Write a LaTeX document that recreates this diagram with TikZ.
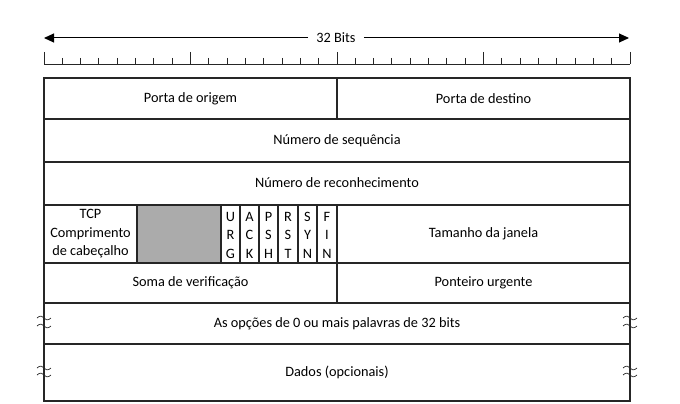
\documentclass[tikz,border=0pt]{standalone}
\usepackage{fontspec}
\setmainfont{Carlito}
\usetikzlibrary{arrows.meta}
\begin{document}
\begin{tikzpicture}[x=1pt,y=-1pt,
  every node/.style={font=\fontsize{14.3}{17.5}\selectfont, inner sep=0pt},
  frame/.style={line width=1.1pt, draw=black!85},
  tick/.style={line width=0.9pt, draw=black!85},
  cell/.style={align=center},
  flagtxt/.style={align=center, font=\fontsize{14.3}{18.5}\selectfont},
  brk/.style={line width=0.7pt, draw=black!85},
  dimarrow/.style={line width=1pt, -{Triangle[length=10pt,width=9pt]}}
]
\useasboundingbox (0,0) rectangle (680,404);
% ruler arrow
\coordinate (aL) at (44,38);
\coordinate (aR) at (629,38);
\node (bits) at (336,38) {32 Bits};
\draw[dimarrow] ([xshift=-8pt]bits.west) -- (aL);
\draw[dimarrow] ([xshift=8pt]bits.east) -- (aR);
% ruler ticks
\draw[tick] (44,64) -- (630,64);
\foreach \i in {0,...,32}{
  \pgfmathsetmacro{\xx}{44+\i*18.3125}
  \pgfmathtruncatemacro{\m}{mod(\i,8)}
  \ifnum\m=0
    \draw[tick] (\xx,52) -- (\xx,64);
  \else
    \draw[tick] (\xx,58) -- (\xx,64);
  \fi
}
% gray reserved
\fill[black!33] (137,205) rectangle (221,263);
% frame
\draw[frame] (44,78) rectangle (630,401);
\foreach \yy in {119,162,205,263,303,344}{
  \draw[frame] (44,\yy) -- (630,\yy);
}
\draw[frame] (337,78) -- (337,119);
\draw[frame] (337,205) -- (337,303);
\foreach \xx in {137,221,240,259,278,298,317}{
  \draw[frame] (\xx,205) -- (\xx,263);
}
% texts
\node[cell] (src) at (190.5,99) {Porta de origem};
\node[cell] (dst) at (483.5,99) {Porta de destino};
\node[cell] (seq) at (337,141) {Número de sequência};
\node[cell] (ack) at (337,183) {Número de reconhecimento};
\node[flagtxt] (hlen) at (90.5,234) {TCP\\Comprimento\\de cabeçalho};
\node[flagtxt] (fu) at (230.5,235) {U\\R\\G};
\node[flagtxt] (fa) at (249.5,235) {A\\C\\K};
\node[flagtxt] (fp) at (268.5,235) {P\\S\\H};
\node[flagtxt] (fr) at (288,235) {R\\S\\T};
\node[flagtxt] (fs) at (307.5,235) {S\\Y\\N};
\node[flagtxt] (ff) at (327,235) {F\\I\\N};
\node[cell] (win) at (483.5,234) {Tamanho da janela};
\node[cell] (chk) at (190.5,283) {Soma de verificação};
\node[cell] (urg) at (483.5,283) {Ponteiro urgente};
\node[cell] (opt) at (337,324) {As opções de 0 ou mais palavras de 32 bits};
\node[cell] (dat) at (337,372) {Dados (opcionais)};
% break marks
\foreach \bx in {44,630}{
  \foreach \by in {318,326,368,375}{
    \draw[brk] (\bx-7,\by) .. controls (\bx-4,\by-3) and (\bx-1,\by-2) .. (\bx,\by)
      .. controls (\bx+1,\by+2) and (\bx+4,\by+3) .. (\bx+7,\by);
  }
}
\end{tikzpicture}
\end{document}
